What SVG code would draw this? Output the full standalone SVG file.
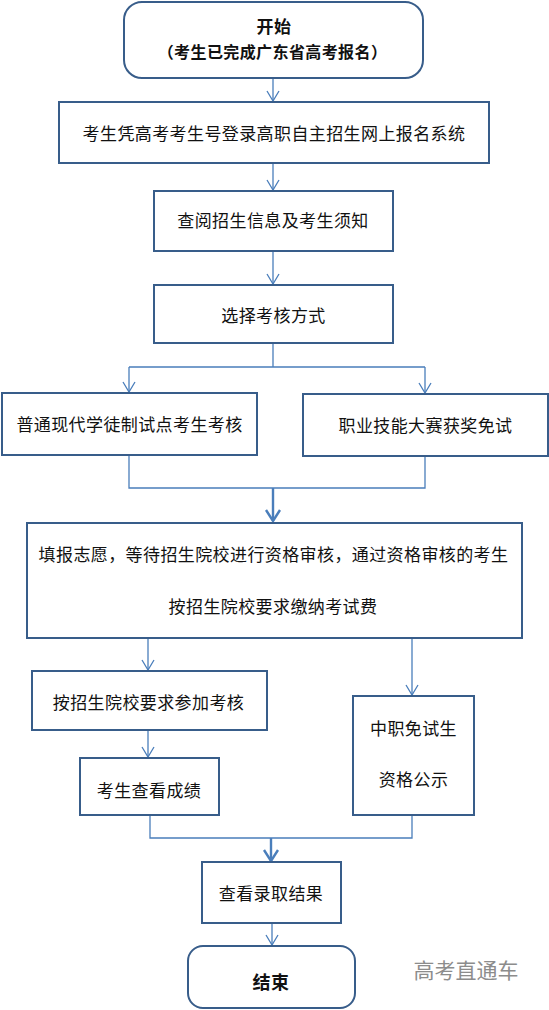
<svg xmlns="http://www.w3.org/2000/svg" width="549" height="1010" viewBox="0 0 549 1010">
<style>
  .box { fill: #ffffff; stroke: #385d8a; stroke-width: 2; }
  .t { font-family: "Liberation Sans", "Noto Sans CJK SC", sans-serif; font-size: 17px; fill: #111111; text-anchor: middle; dominant-baseline: central; letter-spacing: 0.4px; }
  .b { font-weight: bold; }
  .c { fill: none; stroke: #4a7ebb; stroke-width: 1.3; }
  .ck { fill: none; stroke: #4a7ebb; stroke-width: 2.4; }
  .wm { font-family: "Liberation Sans", "Noto Sans CJK SC", sans-serif; font-size: 21px; fill: #8c8c8c; text-anchor: middle; dominant-baseline: central; }
</style>
<defs>
  <marker id="a" markerUnits="userSpaceOnUse" markerWidth="20" markerHeight="20" refX="0" refY="0" orient="auto" overflow="visible">
    <path d="M-10,-6 L0,0 L-10,6" fill="none" stroke="#4a7ebb" stroke-width="1.3"/>
  </marker>
  <marker id="ak" markerUnits="userSpaceOnUse" markerWidth="20" markerHeight="20" refX="0" refY="0" orient="auto" overflow="visible">
    <path d="M-11,-7 L0,0 L-11,7" fill="none" stroke="#4a7ebb" stroke-width="2.4"/>
  </marker>
</defs>
<rect width="549" height="1010" fill="#ffffff"/>

<g id="connectors">
  <path class="c" d="M273,78 V101" marker-end="url(#a)"/>
  <path class="c" d="M273,163 V190" marker-end="url(#a)"/>
  <path class="c" d="M273,251 V284" marker-end="url(#a)"/>
  <path class="c" d="M273,343 V367 M129,367 H425"/>
  <path class="c" d="M129,367 V392" marker-end="url(#a)"/>
  <path class="c" d="M425,367 V393" marker-end="url(#a)"/>
  <path class="c" d="M129,455 V488 H425 V456"/>
  <path class="ck" d="M273,488 V521" marker-end="url(#ak)"/>
  <path class="c" d="M148,638 V670" marker-end="url(#a)"/>
  <path class="c" d="M412,638 V695" marker-end="url(#a)"/>
  <path class="c" d="M148,730 V757" marker-end="url(#a)"/>
  <path class="c" d="M150,815 V838 H412 V815"/>
  <path class="ck" d="M271,838 V861" marker-end="url(#ak)"/>
  <path class="c" d="M272,923 V945" marker-end="url(#a)"/>
</g>

<g id="start">
  <rect class="box" x="124" y="2" width="299" height="76" rx="18"/>
  <text class="t b" x="274" y="27">开始</text>
  <text class="t b" x="272.5" y="52" style="font-size:16px">（考生已完成广东省高考报名）</text>
</g>
<g id="login">
  <rect class="box" x="59" y="102" width="430" height="61"/>
  <text class="t" x="274" y="134">考生凭高考考生号登录高职自主招生网上报名系统</text>
</g>
<g id="read">
  <rect class="box" x="154" y="191" width="239" height="60"/>
  <text class="t" x="273" y="221">查阅招生信息及考生须知</text>
</g>
<g id="choose">
  <rect class="box" x="154" y="285" width="239" height="58"/>
  <text class="t" x="273.5" y="316">选择考核方式</text>
</g>
<g id="apprentice">
  <rect class="box" x="2" y="393" width="255" height="62"/>
  <text class="t" x="129.5" y="425">普通现代学徒制试点考生考核</text>
</g>
<g id="skills">
  <rect class="box" x="303" y="394" width="245" height="62"/>
  <text class="t" x="425.5" y="426">职业技能大赛获奖免试</text>
</g>
<g id="fill">
  <rect class="box" x="27" y="523" width="495" height="115"/>
  <text class="t" x="273.5" y="555">填报志愿，等待招生院校进行资格审核，通过资格审核的考生</text>
  <text class="t" x="273" y="607">按招生院校要求缴纳考试费</text>
</g>
<g id="exam">
  <rect class="box" x="32" y="671" width="235" height="59"/>
  <text class="t" x="148.5" y="703">按招生院校要求参加考核</text>
</g>
<g id="score">
  <rect class="box" x="80" y="758" width="139" height="57"/>
  <text class="t" x="149" y="791">考生查看成绩</text>
</g>
<g id="exempt">
  <rect class="box" x="353" y="696" width="121" height="119"/>
  <text class="t" x="413.5" y="729">中职免试生</text>
  <text class="t" x="413.5" y="780">资格公示</text>
</g>
<g id="result">
  <rect class="box" x="202" y="862" width="139" height="61"/>
  <text class="t" x="271" y="894">查看录取结果</text>
</g>
<g id="end">
  <rect class="box" x="188" y="946" width="167" height="62" rx="15"/>
  <text class="t b" x="271" y="983" style="font-size:18px">结束</text>
</g>
<text class="wm" x="466" y="970">高考直通车</text>
</svg>
